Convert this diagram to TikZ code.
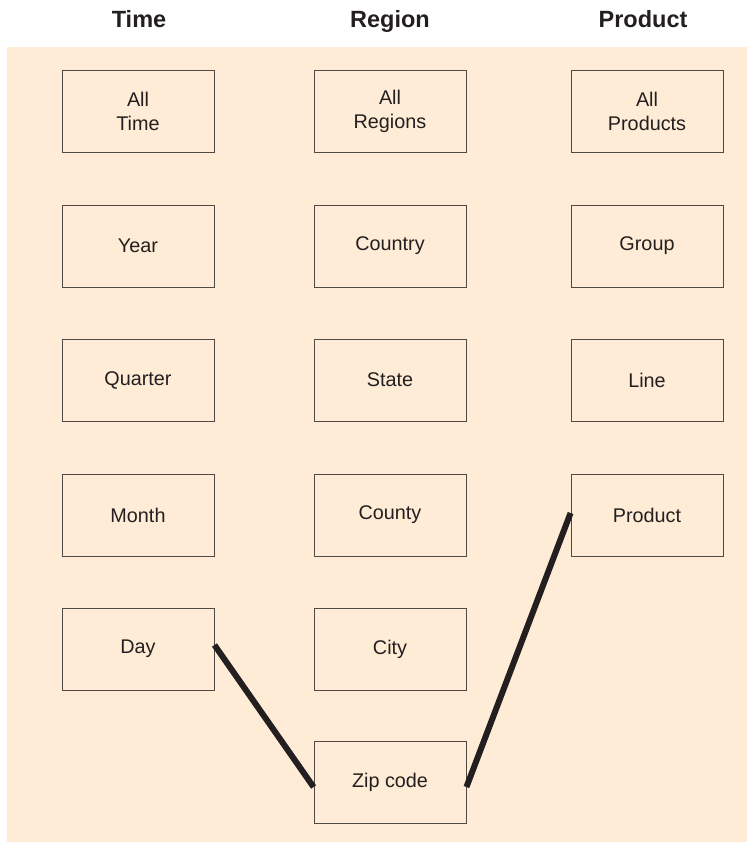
\documentclass[tikz,border=0pt]{standalone}
\usepackage{fontspec}
\setmainfont{Liberation Sans}
\usetikzlibrary{calc}
\definecolor{panel}{RGB}{254,236,214}
\definecolor{boxline}{RGB}{80,74,70}
\definecolor{ink}{RGB}{35,31,32}
\tikzset{
  level/.style={draw=boxline, line width=0.9pt, minimum width=152pt, minimum height=82pt,
    inner sep=0pt, align=center, text=ink, font=\fontsize{19.8}{24}\selectfont},
  header/.style={text=ink, font=\fontsize{23.5}{28}\selectfont\bfseries, anchor=base},
  path/.style={draw=ink, line width=6pt}
}
\begin{document}
\begin{tikzpicture}[x=1pt, y=-1pt]
\useasboundingbox (0,0) rectangle (747,842);
\fill[panel] (7,47) rectangle (747,842);

% column headings
\node[header] (hTime) at (139,28) {Time};
\node[header] (hRegion) at (390,28) {Region};
\node[header] (hProduct) at (643,28) {Product};

% Time hierarchy
\node[level] (allTime) at (138,111) {All\\Time};
\node[level] (year) at (138,246) {Year};
\node[level] (quarter) at (138,380) {Quarter};
\node[level] (month) at (138,515) {Month};
\node[level] (day) at (138,649) {Day};

% Region hierarchy
\node[level] (allRegions) at (390,111) {All\\Regions};
\node[level] (country) at (390,246) {Country};
\node[level] (state) at (390,380) {State};
\node[level] (county) at (390,515) {County};
\node[level] (city) at (390,649) {City};
\node[level] (zip) at (390,782) {Zip code};

% Product hierarchy
\node[level] (allProducts) at (647,111) {All\\Products};
\node[level] (group) at (647,246) {Group};
\node[level] (line) at (647,380) {Line};
\node[level] (product) at (647,515) {Product};

% selected granularity path
\draw[path] ($(day.east)+(0,-4)$) -- ($(zip.west)+(0,5)$);
\draw[path] ($(zip.east)+(0,5)$) -- ($(product.west)+(0,-2)$);
\end{tikzpicture}
\end{document}
